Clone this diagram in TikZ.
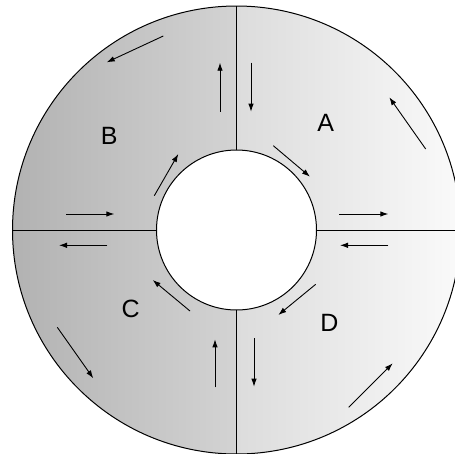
\documentclass[tikz,border=0pt]{standalone}
\usepackage{fontspec}
\setmainfont{Liberation Sans}
\usepackage{tikz}
\usetikzlibrary{arrows.meta}

\definecolor{ringdarkL}{HTML}{B2B2B2}
\definecolor{ringmidL}{HTML}{D3D3D3}
\definecolor{ringmidR}{HTML}{DCDCDC}
\definecolor{ringlightR}{HTML}{FAFAFA}

\begin{document}
\begin{tikzpicture}[x=1pt, y=-1pt, >={Latex[length=8pt,width=5.5pt]},
    flow/.style={->, line width=0.9pt},
    quad/.style={font=\fontsize{25}{29}\selectfont}]
    \useasboundingbox (0,0) rectangle (455,453);
    \coordinate (O) at (236.5,230);
    % shaded ring, one gradient per half
    \shade[left color=ringdarkL, right color=ringmidL] (O) -- ++(90:224) arc (90:270:224) -- cycle;
    \shade[left color=ringmidR, right color=ringlightR] (O) -- ++(-90:224) arc (-90:90:224) -- cycle;
    \fill[white] (O) circle[radius=80];
    \draw[line width=1pt] (O) circle[radius=224];
    \draw[line width=1pt] (O) circle[radius=80];
    % quadrant borders
    \draw[line width=1pt] (O) ++(0,-80) -- ++(0,-144);
    \draw[line width=1pt] (O) ++(0,80) -- ++(0,144);
    \draw[line width=1pt] (O) ++(-80,0) -- ++(-144,0);
    \draw[line width=1pt] (O) ++(80,0) -- ++(144,0);
    % labels
    \node[quad] (A) at (325.7,123.3) {A};
    \node[quad] (B) at (109.3,136) {B};
    \node[quad] (C) at (130.7,309.3) {C};
    \node[quad] (D) at (329.3,322.7) {D};
    % flow arrows
    \draw[flow] (163.3,36) -- (106.7,62.3);
    \draw[flow] (220,111.7) -- (220,62.7);
    \draw[flow] (251,62.7) -- (251,111.7);
    \draw[flow] (425.7,149) -- (389.3,97.3);
    \draw[flow] (273.3,145.7) -- (310,176.7);
    \draw[flow] (154.3,195.7) -- (178.3,154);
    \draw[flow] (66,214) -- (114.3,214);
    \draw[flow] (107.3,245.3) -- (59,245.3);
    \draw[flow] (339.3,214) -- (388.3,214);
    \draw[flow] (388.3,245.3) -- (340,245.3);
    \draw[flow] (190,311) -- (152.7,280);
    \draw[flow] (315.7,284.3) -- (278.3,315);
    \draw[flow] (57.3,327.3) -- (93.3,378.3);
    \draw[flow] (215,387.3) -- (215,339.3);
    \draw[flow] (254,338.3) -- (254,386.7);
    \draw[flow] (348.7,407.3) -- (392.7,363.3);
\end{tikzpicture}
\end{document}
